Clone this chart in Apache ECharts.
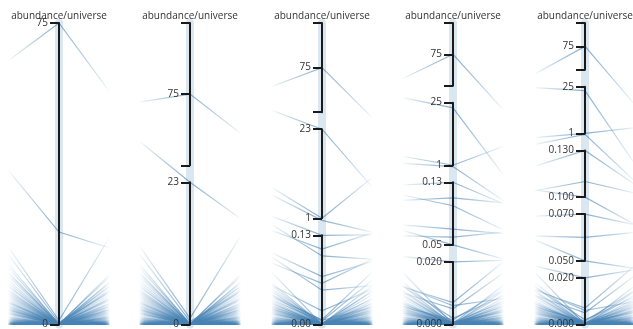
<!DOCTYPE html>
<html>
<head>
<meta charset="utf-8">
<script src="https://cdn.jsdelivr.net/npm/echarts@6/dist/echarts.min.js"></script>
<style>
  html, body { margin: 0; padding: 0; background: #fff; }
  #chart { width: 633px; height: 329px; }
</style>
</head>
<body>
<div id="chart"></div>
<script>
// Elements and their abundance in the universe (percent by mass).
const elements = ['H','He','O','C','Ne','Fe','N','Si','Mg','S','Ar','Ca','Ni','Al','Na','Cr','Mn','P','K','Ti',
  'Co','Cl','V','F','Zn','Ge','Cu','Zr','Kr','Sr','Se','Sc','Ga','Rb','Xe','Ba','Ce','Nd','Te','Li',
  'As','Br','Y','Mo','Ru','Sn','Be','B','Nb','Pd','Cd','La','Pr','Sm','Gd','Dy','Er','Yb','Hf','W',
  'Os','Ir','Pt','Au','Hg','Pb','Rh','Ag','I','Cs','Sb','In','Th','U','Eu','Tb','Ho','Tm','Lu','Ta','Re','Tl','Bi',
  'Tc','Pm','Po','At','Rn','Fr','Ra','Ac','Pa','Np','Pu','Am','Cm','Bk','Cf','Es','Fm','Md','No','Lr',
  'Rf','Db','Sg','Bh','Hs','Mt','Ds','Rg','Cn','Nh','Fl','Mc','Lv','Ts','Og'];
const universe = [75, 23, 1, 0.5, 0.13, 0.11, 0.1, 0.07, 0.06, 0.05, 0.02, 0.007, 0.006, 0.005, 0.002, 0.0015, 0.0008, 0.0007, 0.0003, 0.0003,
  0.0003, 0.0001, 0.0001, 0.00004, 0.00003, 0.00002, 0.000006, 0.000005, 0.000004, 0.000004, 0.000003, 0.000003, 0.000001, 0.000001, 0.000001, 0.000001, 0.000001, 0.000001, 0.0000009, 0.0000006,
  0.0000008, 0.0000007, 0.0000007, 0.0000005, 0.0000004, 0.0000004, 0.0000001, 0.0000001, 0.0000002, 0.0000002, 0.0000002, 0.0000002, 0.0000002, 0.0000005, 0.0000002, 0.0000002, 0.0000002, 0.0000002, 0.00000007, 0.00000005,
  0.0000003, 0.0000002, 0.0000005, 0.00000006, 0.0000001, 0.000001, 0.00000006, 0.00000006, 0.0000001, 0.00000008, 0.00000004, 0.00000003, 0.00000004, 0.00000002, 0.00000005, 0.00000005, 0.00000005, 0.00000001, 0.00000001, 0.00000001, 0.00000002, 0.00000005, 0.00000007,
  0, 0, 0, 0, 0, 0, 0, 0, 0, 0, 0, 0, 0, 0, 0, 0, 0, 0, 0, 0,
  0, 0, 0, 0, 0, 0, 0, 0, 0, 0, 0, 0, 0, 0, 0];
// Position of each element on the neighbouring (off-panel) axes, 0-100 scale.
const prevAxis = [70, 80, 60, 55, 45, 40, 48, 35, 30, 38, 25, 20, 22, 18, 28, 12, 14, 33, 9, 16,
  27, 26, 10, 42, 15, 11, 18, 13, 19, 6, 23, 4, 12, 9, 15, 31, 6, 13, 8, 24,
  2, 14, 12, 1, 5, 17, 21, 17, 3, 8, 6, 11, 4, 2, 5, 1, 3, 7, 1, 4,
  2, 3, 1, 9, 5, 10, 1, 3, 2, 1, 4, 1, 2, 1, 0, 2, 0, 1, 0, 1, 0, 2, 1,
  3, 1, 0, 2, 1, 0, 4, 1, 0, 2, 1, 0, 1, 3, 0, 1, 2, 0, 1, 0,
  0, 1, 0, 0, 2, 0, 1, 0, 0, 1, 0, 0, 0, 1, 0];
const nextAxis = [45, 18, 68, 25, 30, 38, 20, 28, 33, 15, 22, 40, 12, 34, 20, 26, 9, 17, 31, 7,
  14, 11, 24, 6, 19, 14, 10, 15, 3, 8, 12, 21, 12, 5, 1, 17, 16, 9, 3, 13,
  6, 11, 2, 5, 8, 1, 4, 27, 6, 3, 2, 10, 1, 4, 2, 3, 5, 1, 2, 3,
  7, 1, 4, 2, 1, 6, 1, 2, 5, 3, 1, 2, 1, 1, 2, 0, 1, 0, 1, 1, 0, 1, 2,
  1, 2, 0, 1, 3, 0, 1, 0, 2, 0, 1, 4, 0, 1, 0, 2, 0, 1, 0, 0,
  1, 0, 0, 2, 0, 0, 1, 0, 0, 0, 1, 0, 0, 0, 1];

// Axis segments per panel, top to bottom: [min, max].
const panelSegments = [
  [[0, 75]],
  [[70, 80], [0, 23]],
  [[70, 80], [1, 23], [0, 0.13]],
  [[70, 80], [1, 25], [0.05, 0.13], [0, 0.02]],
  [[70, 80], [1, 25], [0.1, 0.13], [0.05, 0.07], [0, 0.02]]
];
const panelTickValues = [
  [[75, 0]],
  [[75], [23, 0]],
  [[75], [23, 1], [0.13, 0]],
  [[75], [25, 1], [0.13, 0.05], [0.02, 0]],
  [[75], [25, 1], [0.13, 0.1], [0.07, 0.05], [0.02, 0]]
];
const panelTickLabels = [
  [['75', '0']],
  [['75'], ['23', '0']],
  [['75'], ['23', '1'], ['0.13', '0.00']],
  [['75'], ['25', '1'], ['0.13', '0.05'], ['0.020', '0.000']],
  [['75'], ['25', '1'], ['0.130', '0.100'], ['0.070', '0.050'], ['0.020', '0.000']]
];
const axisTitle = 'abundance/universe';

// Layout
const AXIS_X0 = 59, PANEL_STEP = 131.5;
const TOP = 23, BOTTOM = 324.5, SEG_GAP = 17;
const REACH = 122;   // distance to the neighbouring axes
const FADE = 51;     // half-width of the visible line fan
const FONT = '"Open Sans", "DejaVu Sans", sans-serif';
const LINE_RGB = '70,130,180';

function fade(x) {
  const c = (a) => 'rgba(' + LINE_RGB + ',' + a + ')';
  return new echarts.graphic.LinearGradient(x - FADE, 0, x + FADE, 0, [
    { offset: 0, color: c(0) },
    { offset: 0.06, color: c(0.15) },
    { offset: 0.3, color: c(0.45) },
    { offset: 0.5, color: c(0.65) },
    { offset: 0.7, color: c(0.45) },
    { offset: 0.94, color: c(0.15) },
    { offset: 1, color: c(0) }
  ], true);
}

function segmentFor(v, segs) {
  let best = 0, bestD = Infinity;
  const lg = (a) => Math.log(a + 1e-12);
  segs.forEach(([lo, hi], i) => {
    const d = (v >= lo && v <= hi) ? 0 : Math.min(Math.abs(lg(v) - lg(lo)), Math.abs(lg(v) - lg(hi)));
    if (d < bestD) { bestD = d; best = i; }
  });
  return best;
}

// neighbouring axes: positioned off-panel, nothing drawn
const hiddenAxis = (k, dim, min, max) => ({
  parallelIndex: k, dim: dim, min: min, max: max,
  axisLine: { show: false }, axisTick: { show: false },
  axisLabel: { show: false, customValues: [], formatter: () => '' },
  splitLine: { show: false }
});

const parallel = [], parallelAxis = [], series = [];

panelSegments.forEach((segs, p) => {
  const x = Math.floor(AXIS_X0 + PANEL_STEP * p);
  const box = { left: x - REACH, width: 2 * REACH, layout: 'horizontal', axisExpandable: false };

  // full-height highlight band + title
  const bandIdx = parallel.length;
  parallel.push(Object.assign({}, box, { top: TOP, height: BOTTOM - TOP }));
  parallelAxis.push(hiddenAxis(bandIdx, 0, 0, 100));
  parallelAxis.push({
    parallelIndex: bandIdx, dim: 1, min: 0, max: 1, z: 0,
    name: axisTitle, nameLocation: 'end', nameGap: 2,
    nameTextStyle: { fontSize: 10, color: '#333', fontFamily: FONT },
    axisLine: { lineStyle: { color: 'rgba(' + LINE_RGB + ',0.2)', width: 8 } },
    axisTick: { show: false },
    axisLabel: { show: false, customValues: [], formatter: () => '' }
  });
  parallelAxis.push(hiddenAxis(bandIdx, 2, 0, 100));

  const n = segs.length;
  const h = (BOTTOM - TOP - SEG_GAP * (n - 1)) / n;
  const groups = segs.map(() => []);
  universe.forEach((v, i) => {
    groups[segmentFor(v, segs)].push({ name: elements[i], value: [prevAxis[i], v, nextAxis[i]] });
  });

  segs.forEach(([lo, hi], s) => {
    const t = TOP + s * (h + SEG_GAP), b = t + h;
    const k = parallel.length;
    parallel.push(Object.assign({}, box, { top: t, height: h }));
    const nbMin = (BOTTOM - b) / (BOTTOM - TOP) * 100;
    const nbMax = (BOTTOM - t) / (BOTTOM - TOP) * 100;
    const tv = panelTickValues[p][s], tl = panelTickLabels[p][s];
    const tickVals = [lo, hi].concat(tv.filter((v) => v !== lo && v !== hi));
    parallelAxis.push(hiddenAxis(k, 0, nbMin, nbMax));
    parallelAxis.push({
      parallelIndex: k, dim: 1, min: lo, max: hi, z: 10,
      axisLine: { lineStyle: { color: '#1a1a1a', width: 2 } },
      // caps and ticks point to the left of the axis
      axisTick: { show: true, length: -9, customValues: tickVals, lineStyle: { color: '#1a1a1a', width: 2 } },
      axisLabel: {
        show: true, margin: -11, align: 'right', customValues: tv,
        fontSize: 10, color: '#333', fontFamily: FONT,
        formatter: (v) => {
          const j = tv.findIndex((u) => Math.abs(u - v) < 1e-12);
          return j >= 0 ? tl[j] : '';
        }
      },
      splitLine: { show: false }
    });
    parallelAxis.push(hiddenAxis(k, 2, nbMin, nbMax));
    series.push({
      type: 'parallel', parallelIndex: k, silent: true, z: 2,
      lineStyle: { color: fade(x), width: 1.2, opacity: 1 },
      data: groups[s]
    });
  });
});

const chart = echarts.init(document.getElementById('chart'), null, { renderer: 'canvas' });
chart.setOption({
  animation: false,
  backgroundColor: '#fff',
  parallel: parallel,
  parallelAxis: parallelAxis,
  series: series
});
</script>
</body>
</html>
